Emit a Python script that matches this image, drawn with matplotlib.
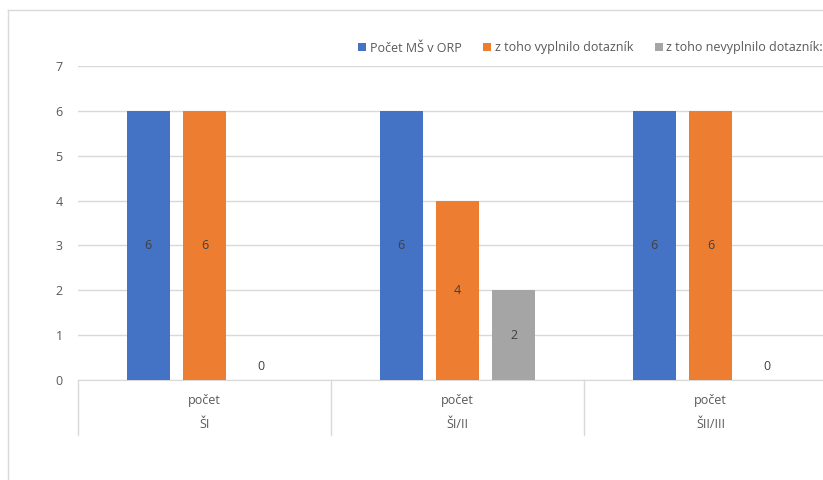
import matplotlib
matplotlib.use("Agg")
import matplotlib.pyplot as plt
from matplotlib.lines import Line2D
import numpy as np

# data
categories = ["ŠI", "ŠI/II", "ŠII/III"]
sublabel = "počet"
series_names = ["Počet MŠ v ORP", "z toho vyplnilo dotazník", "z toho nevyplnilo dotazník:"]
pocet_ms = [6, 6, 6]
vyplnilo = [6, 4, 6]
nevyplnilo = [0, 2, 0]
colors = ["#4472C4", "#ED7D31", "#A5A5A5"]

plt.rcParams["font.family"] = ["Open Sans", "DejaVu Sans"]
TXT = "#595959"
FS = 9

fig = plt.figure(figsize=(8.23, 4.8), dpi=100)
W, H = 823, 480
ax = fig.add_axes([78 / W, 1 - 380 / H, 759 / W, 314 / H])

x = np.arange(len(categories))
width = 0.17
step = 0.222
series = [pocet_ms, vyplnilo, nevyplnilo]
for i, (vals, col, name) in enumerate(zip(series, colors, series_names)):
    pos = x + (i - 1) * step
    ax.bar(pos, vals, width=width, color=col, label=name, zorder=3)
    for p, v in zip(pos, vals):
        y = v / 2 if v > 0 else 0.31
        ax.text(p, y, f"{v}", ha="center", va="center", fontsize=FS, color="#404040", zorder=4)

ax.set_xlim(-0.5, len(categories) - 0.5)
ax.set_ylim(0, 7)
ax.set_yticks(range(8))
ax.grid(axis="y", color="#D9D9D9", linewidth=1, zorder=0)
for s in ["top", "right", "left"]:
    ax.spines[s].set_visible(False)
ax.spines["bottom"].set_color("#D9D9D9")
ax.tick_params(axis="y", length=0, labelsize=FS, labelcolor=TXT, pad=11)
ax.set_xticks([])

# two-level category axis
tr = ax.get_xaxis_transform()
for b in np.arange(len(categories) + 1) - 0.5:
    ax.add_line(Line2D([b, b], [0, -0.175], transform=tr, color="#D9D9D9", lw=1, clip_on=False))
for xi, cat in zip(x, categories):
    ax.text(xi, -0.064, sublabel, transform=tr, ha="center", va="center", fontsize=FS, color=TXT)
    ax.text(xi, -0.143, cat, transform=tr, ha="center", va="center", fontsize=FS, color=TXT)

leg = fig.legend(loc="center left", bbox_to_anchor=(358 / W, 1 - 48 / H), ncol=3, frameon=False,
                 fontsize=FS, handlelength=0.65, handleheight=0.65, handletextpad=0.3,
                 columnspacing=1.7, borderaxespad=0, borderpad=0)
for t in leg.get_texts():
    t.set_color(TXT)

# chart area border
fig.add_artist(Line2D([8 / W, 8 / W], [0, 1 - 10 / H], transform=fig.transFigure, color="#D9D9D9", lw=1))
fig.add_artist(Line2D([8 / W, 1], [1 - 10 / H, 1 - 10 / H], transform=fig.transFigure, color="#D9D9D9", lw=1))

fig.savefig("out.png", dpi=100)
